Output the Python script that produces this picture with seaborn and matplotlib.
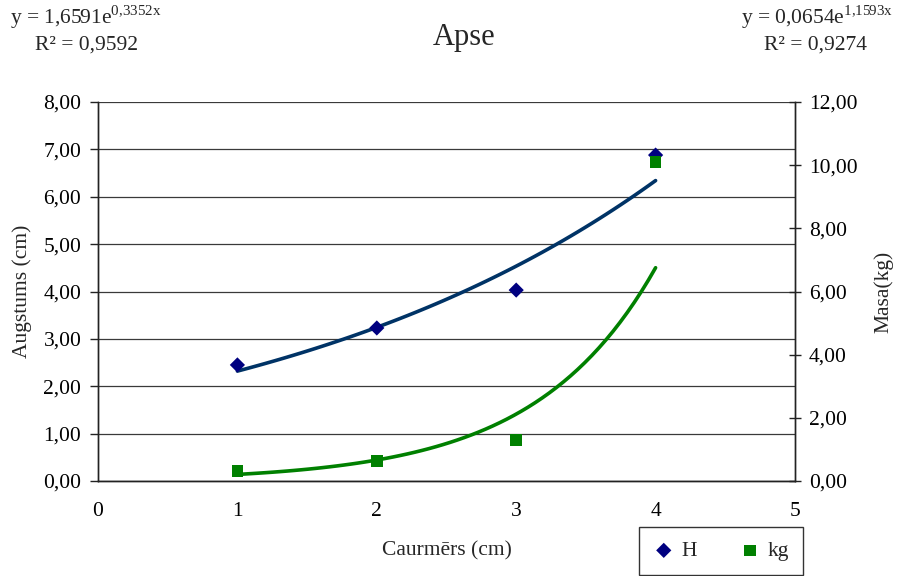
"""
Apse: augstums un masa pret caurmēru, ar eksponenciālām tendences līnijām.
"""

import numpy as np
import pandas as pd
import matplotlib
matplotlib.use("Agg")
import matplotlib.pyplot as plt
import seaborn as sns

# dati no attēla
caurmers = [1, 2, 3, 4]
augstums = [2.45, 3.23, 4.03, 6.88]
masa = [0.32, 0.63, 1.30, 10.10]

# tendences līniju koeficienti (no vienādojumiem attēlā)
h_a, h_b = 1.6591, 0.3352
kg_a, kg_b = 0.0654, 1.1593

sns.set_theme(style="white")
plt.rcParams["font.family"] = ["Liberation Serif", "DejaVu Serif"]
plt.rcParams["mathtext.fontset"] = "custom"
plt.rcParams["mathtext.rm"] = "Liberation Serif"

FS = 15.5

df = pd.DataFrame({"x": caurmers, "H": augstums, "kg": masa})
xs = np.linspace(min(caurmers), max(caurmers), 60)
trend = pd.DataFrame({
    "x": xs,
    "H": h_a * np.exp(h_b * xs),
    "kg": kg_a * np.exp(kg_b * xs),
})

fig = plt.figure(figsize=(8.97, 5.76), dpi=100)
ax = fig.add_axes([98 / 897, 95 / 576, 697 / 897, 379 / 576])
ax2 = ax.twinx()

# tendences līnijas
sns.lineplot(data=trend, x="x", y="H", ax=ax, color="#003366", lw=2.6, legend=False)
sns.lineplot(data=trend, x="x", y="kg", ax=ax2, color="#008000", lw=2.6, legend=False)

# punkti
sns.scatterplot(data=df, x="x", y="H", ax=ax, marker="D", s=60, color="#000080",
                edgecolor="none", zorder=5, label="H", legend=False)
sns.scatterplot(data=df, x="x", y="kg", ax=ax2, marker="s", s=70, color="#008000",
                edgecolor="none", zorder=5, label="kg", legend=False)

ax.set_xlim(0, 5)
ax.set_ylim(0, 8)
ax2.set_ylim(0, 12)
ax.set_xticks(range(0, 6))
ax.set_yticks(range(0, 9))
ax2.set_yticks(range(0, 13, 2))
ax.set_yticklabels([f"{v:.2f}".replace(".", ",") for v in range(0, 9)])
ax2.set_yticklabels([f"{v:.2f}".replace(".", ",") for v in range(0, 13, 2)])

ax.grid(axis="y", color="#3a3a3a", lw=0.9)
ax.set_axisbelow(True)
for a in (ax, ax2):
    a.spines["top"].set_visible(False)
    for s in ("left", "right", "bottom"):
        a.spines[s].set_color("#222222")
        a.spines[s].set_linewidth(1.0)
    a.tick_params(direction="out", length=6, width=1, color="#222222",
                  labelsize=FS, labelcolor="black", pad=6)
ax2.tick_params(axis="y", direction="inout", length=8)
ax.tick_params(axis="x", pad=9)

ax.set_xlabel("Caurmērs (cm)", fontsize=FS, labelpad=15)
ax.set_ylabel("Augstums (cm)", fontsize=FS, labelpad=8)
ax2.set_ylabel("Masa(kg)", fontsize=FS, labelpad=12)

fig.text(464 / 897, 1 - 38 / 576, "Apse", ha="center", va="center", fontsize=22)

fig.text(10 / 897, 1 - 17 / 576, r"y = 1,6591e$^{\mathrm{0{,}3352x}}$",
         ha="left", va="center", fontsize=FS)
fig.text(35 / 897, 1 - 45 / 576, "R² = 0,9592", ha="left", va="center", fontsize=FS)
fig.text(893 / 897, 1 - 17 / 576, r"y = 0,0654e$^{\mathrm{1{,}1593x}}$",
         ha="right", va="center", fontsize=FS)
fig.text(867 / 897, 1 - 45 / 576, "R² = 0,9274", ha="right", va="center", fontsize=FS)

h1, l1 = ax.get_legend_handles_labels()
h2, l2 = ax2.get_legend_handles_labels()
pts = [h for h, l in zip(h1 + h2, l1 + l2) if l in ("H", "kg")]
leg = fig.legend(pts, ["H", "kg"], loc="lower left",
                 bbox_to_anchor=(639 / 897, 1 / 576), ncol=2, fontsize=FS,
                 frameon=True, fancybox=False, edgecolor="black",
                 columnspacing=2.0, handletextpad=0.3, borderpad=0.65,
                 handlelength=1.0, borderaxespad=0.0)
leg.get_frame().set_linewidth(1.0)

fig.savefig("out.png", dpi=100)
